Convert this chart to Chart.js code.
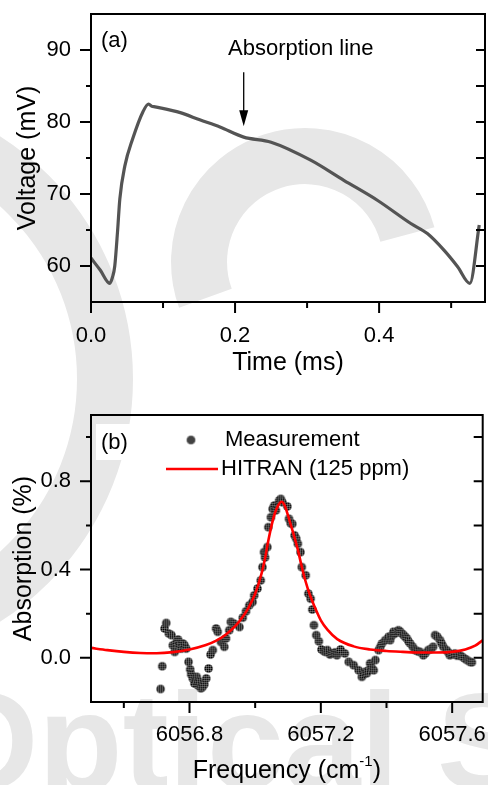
<!DOCTYPE html>
<html>
<head>
<meta charset="utf-8">
<script src="https://cdn.jsdelivr.net/npm/chart.js@4.4.0/dist/chart.umd.min.js"></script>
<style>
html,body{margin:0;padding:0;background:#fff;}
#wrap{position:relative;width:488px;height:785px;overflow:hidden;}
#wmArc{position:absolute;left:0;top:0;}
#wm{position:absolute;left:-69px;top:0;white-space:nowrap;font:bold 138px "Liberation Sans",Arial,sans-serif;letter-spacing:0;color:#e7e7e7;line-height:1;}
#ca{position:absolute;left:0;top:0;}
#cb{position:absolute;left:0;top:390px;}
</style>
</head>
<body>
<div id="wrap">
<svg id="wmArc" width="488" height="785">
  <g fill="none" stroke="#e7e7e7" stroke-width="56">
    <circle cx="-155" cy="379" r="260"/>
    <path d="M407.4,234.6 A106,106 0 1 0 205.4,298.3"/>
  </g>
</svg>
<div id="wm">Optical Soc</div>
<canvas id="ca" width="488" height="390" style="width:488px;height:390px"></canvas>
<canvas id="cb" width="488" height="395" style="width:488px;height:395px"></canvas>
</div>
<script>
// --- panel (a): voltage ramp ---
const timeMs = [0, 0.013, 0.026, 0.030, 0.033, 0.037, 0.040, 0.047, 0.058, 0.072, 0.080, 0.084, 0.089, 0.124, 0.151, 0.179, 0.212, 0.250, 0.305, 0.351, 0.398, 0.444, 0.467, 0.490, 0.509, 0.526, 0.539];
const voltageMv = [61.1, 59.4, 57.6, 58.5, 60.0, 65.0, 69.3, 73.9, 77.7, 81.4, 82.5, 82.2, 82.1, 81.3, 80.3, 79.3, 77.9, 77.2, 74.7, 71.9, 69.1, 65.9, 64.5, 62.2, 59.9, 57.6, 65.7];
const timeTicks = [0, 0.2, 0.4];
const timeMinor = [0.1, 0.3, 0.5];
const voltTicks = [60, 70, 80, 90];
const voltMinor = [65, 75, 85];

// --- panel (b): absorption line ---
const measFreq = [6056.712, 6056.717, 6056.724, 6056.729, 6056.737, 6056.745, 6056.749, 6056.755, 6056.760, 6056.765, 6056.770, 6056.775, 6056.780, 6056.785, 6056.790, 6056.797, 6056.802, 6056.805, 6056.810, 6056.815, 6056.818, 6056.822, 6056.826, 6056.830, 6056.835, 6056.840, 6056.845, 6056.851, 6056.858, 6056.864, 6056.871, 6056.881, 6056.886, 6056.896, 6056.906, 6056.911, 6056.921, 6056.926, 6056.936, 6056.952, 6056.962, 6056.972, 6056.982, 6056.992, 6056.997, 6057.007, 6057.017, 6057.022, 6057.027, 6057.030, 6057.037, 6057.040, 6057.048, 6057.053, 6057.058, 6057.063, 6057.073, 6057.078, 6057.083, 6057.098, 6057.103, 6057.108, 6057.113, 6057.120, 6057.125, 6057.130, 6057.138, 6057.142, 6057.154, 6057.162, 6057.169, 6057.174, 6057.179, 6057.186, 6057.194, 6057.202, 6057.210, 6057.215, 6057.220, 6057.228, 6057.234, 6057.243, 6057.249, 6057.260, 6057.273, 6057.285, 6057.300, 6057.315, 6057.325, 6057.330, 6057.335, 6057.340, 6057.345, 6057.350, 6057.355, 6057.361, 6057.366, 6057.376, 6057.381, 6057.386, 6057.396, 6057.406, 6057.411, 6057.416, 6057.421, 6057.426, 6057.436, 6057.441, 6057.447, 6057.452, 6057.457, 6057.462, 6057.467, 6057.472, 6057.480, 6057.487, 6057.495, 6057.502, 6057.512, 6057.518, 6057.527, 6057.535, 6057.542, 6057.548, 6057.555, 6057.563, 6057.568, 6057.573, 6057.583, 6057.588, 6057.593, 6057.600, 6057.608, 6057.615, 6057.623, 6057.630, 6057.638, 6057.645, 6057.654, 6057.660];
const measAbs = [-0.141, -0.038, 0.133, 0.158, 0.110, 0.103, 0.057, 0.027, 0.070, 0.083, 0.057, 0.042, 0.065, 0.057, 0.042, -0.018, -0.052, -0.075, -0.093, -0.116, -0.100, -0.086, -0.125, -0.108, -0.138, -0.131, -0.120, -0.093, -0.048, 0.015, 0.035, 0.133, 0.118, 0.072, 0.050, 0.088, 0.125, 0.163, 0.155, 0.140, 0.182, 0.211, 0.238, 0.253, 0.283, 0.314, 0.351, 0.411, 0.479, 0.455, 0.502, 0.592, 0.637, 0.675, 0.690, 0.668, 0.713, 0.720, 0.705, 0.686, 0.630, 0.610, 0.607, 0.555, 0.540, 0.517, 0.479, 0.411, 0.374, 0.291, 0.268, 0.219, 0.148, 0.103, 0.075, 0.038, 0.030, 0.027, 0.035, 0.015, 0.020, 0.025, 0.012, 0.038, 0.020, -0.018, -0.033, -0.056, -0.086, -0.075, -0.063, -0.070, -0.056, -0.025, -0.045, -0.056, -0.010, 0.035, 0.050, 0.065, 0.080, 0.095, 0.080, 0.100, 0.118, 0.110, 0.125, 0.120, 0.110, 0.103, 0.095, 0.088, 0.075, 0.065, 0.050, 0.035, 0.030, 0.027, 0.012, 0.020, 0.035, 0.040, 0.050, 0.103, 0.095, 0.080, 0.065, 0.050, 0.035, 0.025, 0.012, 0.015, 0.020, 0.010, 0.012, 0.005, -0.003, -0.010, -0.018, -0.020];
const hitranFreq = [6056.50, 6056.55, 6056.60, 6056.65, 6056.70, 6056.75, 6056.80, 6056.85, 6056.88, 6056.91, 6056.94, 6056.96, 6056.98, 6057.00, 6057.02, 6057.03, 6057.04, 6057.05, 6057.06, 6057.07, 6057.08, 6057.09, 6057.10, 6057.11, 6057.12, 6057.13, 6057.14, 6057.15, 6057.16, 6057.17, 6057.18, 6057.20, 6057.22, 6057.25, 6057.30, 6057.35, 6057.40, 6057.45, 6057.50, 6057.55, 6057.60, 6057.64, 6057.67, 6057.693];
const hitranAbs = [0.045, 0.035, 0.027, 0.022, 0.021, 0.026, 0.038, 0.058, 0.077, 0.105, 0.145, 0.182, 0.228, 0.29, 0.385, 0.45, 0.53, 0.60, 0.655, 0.69, 0.707, 0.69, 0.645, 0.595, 0.545, 0.49, 0.425, 0.365, 0.315, 0.272, 0.235, 0.17, 0.128, 0.085, 0.052, 0.038, 0.031, 0.027, 0.024, 0.024, 0.027, 0.038, 0.055, 0.08];
const freqTicks = [6056.8, 6057.2, 6057.6];
const freqMinor = [6056.6, 6057.0, 6057.4];
const absTicks = [0, 0.4, 0.8];
const absMinor = [0.2, 0.6, 1.0];

const FONT = '"Liberation Sans", Arial, Helvetica, sans-serif';
Chart.defaults.font.family = FONT;
Chart.defaults.color = '#000';

// hatched round marker like the measurement dots
function hatchDot(r){
  const s = Math.ceil(r*2)+2;
  const c = document.createElement('canvas');
  c.width = s; c.height = s;
  const g = c.getContext('2d');
  g.beginPath(); g.arc(s/2, s/2, r, 0, Math.PI*2);
  g.fillStyle = '#000'; g.fill();
  g.save(); g.clip();
  g.strokeStyle = 'rgba(255,255,255,0.28)'; g.lineWidth = 1;
  for(let k=1;k<s;k+=2){
    g.beginPath();
    g.moveTo(k+0.5,0); g.lineTo(k+0.5,s);
    g.moveTo(0,k+0.5); g.lineTo(s,k+0.5);
    g.stroke();
  }
  g.restore();
  return c;
}
const dot = hatchDot(4.3);

// frame + ticks (outward left/bottom, inward right, none on top)
const frameTicks = {
  id:'frameTicks',
  afterDatasetsDraw(chart, args, o){
    const {ctx, chartArea:a, scales:{x,y}} = chart;
    ctx.save();
    ctx.strokeStyle='#000'; ctx.lineWidth=2;
    ctx.strokeRect(a.left, a.top, a.right-a.left, a.bottom-a.top);
    ctx.beginPath();
    o.xMajor.forEach(v=>{const p=x.getPixelForValue(v); ctx.moveTo(p,a.bottom); ctx.lineTo(p,a.bottom+11);});
    o.xMinor.forEach(v=>{const p=x.getPixelForValue(v); ctx.moveTo(p,a.bottom); ctx.lineTo(p,a.bottom+6);});
    o.yMajor.forEach(v=>{const p=y.getPixelForValue(v); ctx.moveTo(a.left,p); ctx.lineTo(a.left-11,p); ctx.moveTo(a.right,p); ctx.lineTo(a.right-9,p);});
    o.yMinor.forEach(v=>{const p=y.getPixelForValue(v); ctx.moveTo(a.left,p); ctx.lineTo(a.left-5,p); ctx.moveTo(a.right,p); ctx.lineTo(a.right-9,p);});
    ctx.stroke();
    ctx.restore();
  }
};

// keep the plot box where the layout padding puts it
function noLabelPad(s){ s.paddingTop = 0; s.paddingBottom = 0; s.paddingLeft = 0; s.paddingRight = 0; }

const tickFont = {size:22};
const titleFont = {size:25};

// ---------- chart (a) ----------
const notesA = {
  id:'notesA',
  afterDraw(chart){
    const {ctx, chartArea:a, scales:{x,y}} = chart;
    ctx.save();
    ctx.fillStyle='#000'; ctx.font='22px '+FONT; ctx.textBaseline='middle';
    ctx.fillText('(a)', a.left+10, a.top+27);
    ctx.fillText('Absorption line', 228, 49);
    const ax = x.getPixelForValue(0.212);
    const y0 = y.getPixelForValue(86.9), y1 = y.getPixelForValue(79.4);
    ctx.strokeStyle='#000'; ctx.lineWidth=1.3;
    ctx.beginPath(); ctx.moveTo(ax, y0); ctx.lineTo(ax, y1-14); ctx.stroke();
    ctx.beginPath(); ctx.moveTo(ax-4.5, y1-16); ctx.lineTo(ax+4.5, y1-16); ctx.lineTo(ax, y1); ctx.closePath(); ctx.fill();
    ctx.restore();
  }
};

new Chart(document.getElementById('ca'), {
  type:'scatter',
  data:{datasets:[{
    data: timeMs.map((t,i)=>({x:t, y:voltageMv[i]})),
    showLine:true, borderColor:'#545454', borderWidth:3.2, pointRadius:0,
    cubicInterpolationMode:'monotone'
  }]},
  options:{
    responsive:false, animation:false,
    layout:{padding:{top:14, right:3, left:0, bottom:0}},
    plugins:{legend:{display:false}, tooltip:{enabled:false},
      frameTicks:{xMajor:timeTicks, xMinor:timeMinor, yMajor:voltTicks, yMinor:voltMinor}},
    scales:{
      x:{type:'linear', min:0, max:0.547,
        afterBuildTicks:s=>{ s.ticks = timeTicks.map(v=>({value:v})); },
        ticks:{font:tickFont, padding:21, maxRotation:0, autoSkip:false, callback:v=>Number(v).toFixed(1)},
        grid:{display:false, drawTicks:false}, border:{display:false},
        title:{display:true, text:'Time (ms)', font:titleFont, padding:{top:0, bottom:12}},
        afterFit:s=>{ s.height = 88; noLabelPad(s); }
      },
      y:{min:55, max:95,
        afterBuildTicks:s=>{ s.ticks = voltTicks.map(v=>({value:v})); },
        ticks:{font:tickFont, padding:20, autoSkip:false, callback:v=>String(v)},
        grid:{display:false, drawTicks:false}, border:{display:false},
        title:{display:true, text:'Voltage (mV)', font:titleFont, padding:{top:13, bottom:0}},
        afterFit:s=>{ s.width = 91; noLabelPad(s); }
      }
    }
  },
  plugins:[frameTicks, notesA]
});

// ---------- chart (b) ----------
const notesB = {
  id:'notesB',
  afterDraw(chart){
    const {ctx, chartArea:a} = chart;
    ctx.save();
    ctx.fillStyle='#fff';
    ctx.fillRect(96, 34, 40, 36);
    ctx.fillRect(160, 35, 257, 60);
    ctx.fillStyle='#000'; ctx.font='22px '+FONT; ctx.textBaseline='middle';
    ctx.fillText('(b)', a.left+10, 52.5);
    ctx.drawImage(dot, 191-dot.width/2, 50-dot.height/2);
    ctx.fillText('Measurement', 225, 50);
    ctx.strokeStyle='#ff0000'; ctx.lineWidth=2.5;
    ctx.beginPath(); ctx.moveTo(166, 79); ctx.lineTo(218, 79); ctx.stroke();
    ctx.fillText('HITRAN (125 ppm)', 221, 79);
    // x title with superscript
    const t1='Frequency (cm', sup='-1', t2=')';
    ctx.font='25px '+FONT; const w1=ctx.measureText(t1).width, w2=ctx.measureText(t2).width;
    ctx.font='15px '+FONT; const ws=ctx.measureText(sup).width;
    let x0 = (a.left+a.right)/2 - (w1+ws+w2)/2;
    const ty = 381;
    ctx.font='25px '+FONT; ctx.fillText(t1, x0, ty); x0+=w1;
    ctx.font='15px '+FONT; ctx.fillText(sup, x0, ty-9); x0+=ws;
    ctx.font='25px '+FONT; ctx.fillText(t2, x0, ty);
    ctx.restore();
  }
};

new Chart(document.getElementById('cb'), {
  type:'scatter',
  data:{datasets:[
    {label:'HITRAN (125 ppm)', data: hitranFreq.map((f,i)=>({x:f, y:hitranAbs[i]})),
      showLine:true, borderColor:'#ff0000', borderWidth:2.6, pointRadius:0, cubicInterpolationMode:'monotone'},
    {label:'Measurement', data: measFreq.map((f,i)=>({x:f, y:measAbs[i]})),
      showLine:false, pointStyle:dot, pointRadius:4.3}
  ]},
  options:{
    responsive:false, animation:false,
    layout:{padding:{top:25, right:3, left:0, bottom:0}},
    plugins:{legend:{display:false}, tooltip:{enabled:false},
      frameTicks:{xMajor:freqTicks, xMinor:freqMinor, yMajor:absTicks, yMinor:absMinor}},
    scales:{
      x:{type:'linear', min:6056.5, max:6057.693,
        afterBuildTicks:s=>{ s.ticks = freqTicks.map(v=>({value:v})); },
        ticks:{font:tickFont, padding:20, maxRotation:0, autoSkip:false, callback:v=>Number(v).toFixed(1)},
        grid:{display:false, drawTicks:false}, border:{display:false},
        title:{display:false},
        afterFit:s=>{ s.height = 83; noLabelPad(s); }
      },
      y:{min:-0.2, max:1.1,
        afterBuildTicks:s=>{ s.ticks = absTicks.map(v=>({value:v})); },
        ticks:{font:tickFont, padding:20, autoSkip:false, callback:v=>Number(v).toFixed(1)},
        grid:{display:false, drawTicks:false}, border:{display:false},
        title:{display:true, text:'Absorption (%)', font:titleFont, padding:{top:9, bottom:0}},
        afterFit:s=>{ s.width = 91; noLabelPad(s); }
      }
    }
  },
  plugins:[frameTicks, notesB]
});

// watermark text baseline near the bottom edge
document.getElementById('wm').style.top = (785 - 138*0.905 + 12) + 'px';
</script>
</body>
</html>
